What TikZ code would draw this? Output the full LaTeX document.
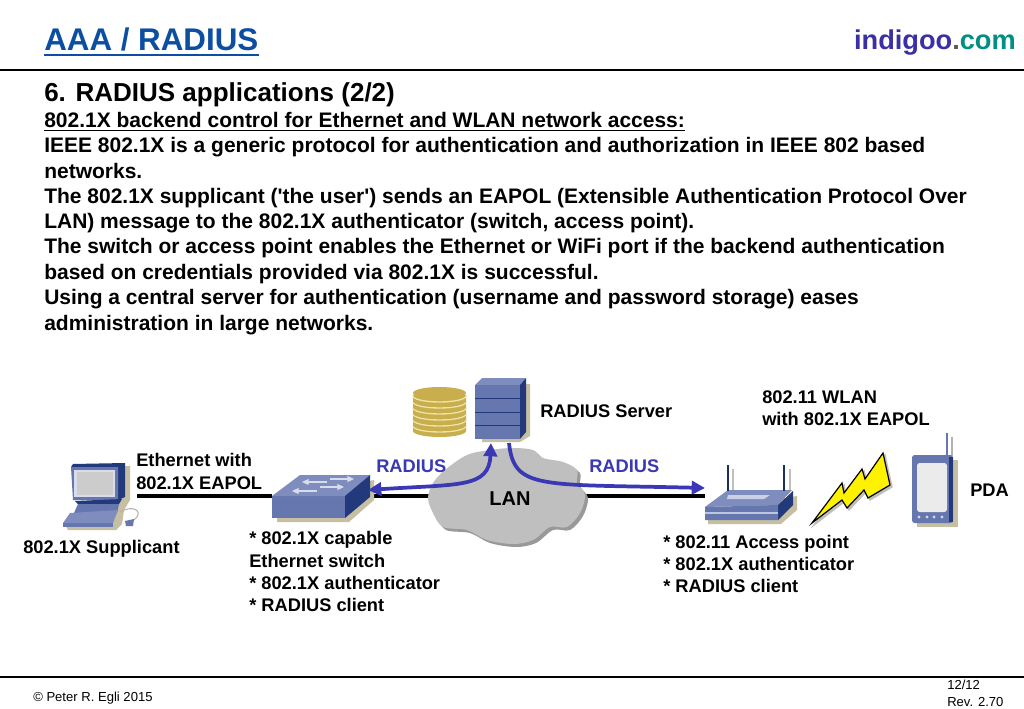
\documentclass[tikz,border=0pt]{standalone}
\usepackage{fontspec}
\setmainfont{Liberation Sans}
\usetikzlibrary{arrows.meta}
\definecolor{titleblue}{HTML}{0B4EA2}
\definecolor{indigo}{HTML}{3A2FA5}
\definecolor{teal}{HTML}{008F80}
\definecolor{radblue}{HTML}{3A38B4}
\definecolor{iconfront}{HTML}{6676AE}
\definecolor{icontop}{HTML}{7E8DBE}
\definecolor{iconside}{HTML}{22397C}
\definecolor{tan}{HTML}{C6BFA2}
\definecolor{gold}{HTML}{C8AE4C}
\definecolor{goldlight}{HTML}{EFE3A6}

\begin{document}
\begin{tikzpicture}[x=0.75pt,y=-0.75pt,
txt/.style={anchor=base west, inner sep=0pt, font=\fontsize{15.75}{18}\selectfont\bfseries},
lbl/.style={anchor=base west, inner sep=0pt, font=\fontsize{13.7}{16}\selectfont\bfseries},
small/.style={anchor=base west, inner sep=0pt, font=\fontsize{9.8}{12}\selectfont},
ethline/.style={line width=2.6pt, black},
radiusarrow/.style={line width=2.8pt, radblue, {Triangle[length=10pt,width=10pt]}-{Triangle[length=10pt,width=10pt]}},
radiusone/.style={line width=2.8pt, radblue, -{Triangle[length=10pt,width=10pt]}},
shadow/.style={fill=tan},
front/.style={fill=iconfront},
top/.style={fill=icontop},
side/.style={fill=iconside}
]
\useasboundingbox (0,0) rectangle (1024,709);
\fill[white] (0,0) rectangle (1024,709);

% header
\node [anchor=base west, inner sep=0pt, text=titleblue, font=\fontsize{23.5}{28}\selectfont\bfseries] (title) at (44,51) {AAA / RADIUS};
\draw [titleblue, line width=1.8pt] ([yshift=-3pt]title.base west) -- ([yshift=-3pt]title.base east);
\node [anchor=base east, inner sep=0pt, font=\fontsize{20.4}{24}\selectfont\bfseries] (site) at (1016,50) {\textcolor{indigo}{indigoo}\textcolor{black!65}{.}\textcolor{teal}{com}};
\coordinate (rulea) at (0,70);
\coordinate (ruleb) at (1024,70);
\draw [line width=0.8pt] (rulea) -- (ruleb);

% text block
\node [anchor=base west, inner sep=0pt, font=\fontsize{19.5}{24}\selectfont\bfseries] (head) at (44,102) {6. RADIUS applications (2/2)};
\node [txt] (t1) at (44,128) {802.1X backend control for Ethernet and WLAN network access:};
\draw [line width=0.9pt] ([yshift=-2pt]t1.base west) -- ([yshift=-2pt]t1.base east);
\node [txt] (t2) at (44,153) {IEEE 802.1X is a generic protocol for authentication and authorization in IEEE 802 based};
\node [txt] (t3) at (44,179) {networks.};
\node [txt] (t4) at (44,204) {The 802.1X supplicant (\textquotesingle the user\textquotesingle) sends an EAPOL (Extensible Authentication Protocol Over};
\node [txt] (t5) at (44,229) {LAN) message to the 802.1X authenticator (switch, access point).};
\node [txt] (t6) at (44,254) {The switch or access point enables the Ethernet or WiFi port if the backend authentication};
\node [txt] (t7) at (44,280) {based on credentials provided via 802.1X is successful.};
\node [txt] (t8) at (44,305) {Using a central server for authentication (username and password storage) eases};
\node [txt] (t9) at (44,330) {administration in large networks.};

% connector ends
\coordinate (pc) at (137,496);
\coordinate (swl) at (272,496);
\coordinate (swr) at (372,496);
\coordinate (cloudl) at (440,496);
\coordinate (cloudr) at (575,496);
\coordinate (ap) at (705,496);
\coordinate (srva) at (491,443);
\coordinate (srvb) at (509,443);
\coordinate (swarrow) at (368,490);
\coordinate (aparrow) at (705,488);

\draw [ethline] (pc) -- (swl);
\draw [ethline] (swr) -- (cloudl);
\draw [ethline] (cloudr) -- (ap);

% cloud
\fill [black!40] plot [smooth cycle, tension=0.55] coordinates {(431,501) (436,486) (448,473) (470,458) (493,453) (516,451) (536,453) (546,461) (566,465) (580,473) (580,486) (588,498) (583,516) (570,530) (553,530) (536,543) (516,547) (490,543) (470,533) (446,530) (436,516)};
\fill [black!25] plot [smooth cycle, tension=0.55] coordinates {(428,498) (433,483) (445,470) (467,455) (490,450) (513,448) (533,450) (543,458) (563,462) (577,470) (577,483) (585,495) (580,513) (567,527) (550,527) (533,540) (513,544) (487,540) (467,530) (443,527) (433,513)};

% disks
\foreach \yy in {425,419,413,407,401,395} {
  \fill [gold] (413,\yy) -- (413,\yy+6) arc [start angle=180, end angle=360, x radius=26.5, y radius=-6] -- (466,\yy) -- cycle;
  \draw [goldlight, line width=1pt] (413,\yy+1) arc [start angle=180, end angle=360, x radius=26.5, y radius=-6];
}
\fill [gold] (439.5,393) ellipse (26.5 and 6);

% server
\fill [shadow] (482,384) -- (530,384) -- (530,436) -- (520,442) -- (482,442) -- cycle;
\fill [top] (475,385) -- (482,378) -- (526,378) -- (520,385) -- cycle;
\fill [side] (520,385) -- (526,378) -- (526,432) -- (520,439) -- cycle;
\fill [front] (475,385) rectangle (520,439);
\foreach \yy in {398,412,425}
  \draw [iconside, line width=0.6pt] (475,\yy) -- (520,\yy);

% switch
\fill [shadow] (277,500) -- (374,480) -- (374,500) -- (349,522) -- (277,522) -- cycle;
\fill [front] (272,496) rectangle (345,518);
\fill [top] (272,496) -- (300,475) -- (370,475) -- (345,496) -- cycle;
\fill [side] (345,496) -- (370,475) -- (370,497) -- (345,518) -- cycle;
\foreach \ax/\ay/\bx/\by in {327/482/302/482,330/479/354/479,317/491/292/491,320/487/344/487}
  \draw [white!70!icontop, line width=0.8pt, -{Triangle[length=5pt,width=4.5pt]}] (\ax,\ay) -- (\bx,\by);

% computer
\fill [shadow] (125,466) -- (130,466) -- (130,500) -- (124,510) -- (122,524) -- (116,530) -- (68,530) -- (66,526) -- cycle;
\fill [iconside] (71,467) -- (73,464) -- (125,463) -- (125,497) -- (118,500) -- cycle;
\fill [front] (71,467) -- (118,467) -- (118,500) -- (73,500) -- cycle;
\fill [white!75!iconfront] (74,470) rectangle (115,497);
\fill [black!20] (77,472) rectangle (113,495);
\fill [iconside] (75,501) -- (122,499) -- (119,504) -- (78,504) -- cycle;
\fill [front] (78,504) -- (119,504) -- (117,513) -- (74,513) -- cycle;
\fill [icontop] (70,513) -- (118,510) -- (113,523) -- (63,523) -- cycle;
\fill [iconfront] (63,523) -- (113,523) -- (113,527) -- (63,527) -- cycle;
\draw [black!30, line width=0.8pt] (120,512) .. controls (136,503) and (145,514) .. (132,521);
\fill [iconfront] (125,521) -- (134,519) -- (133,526) -- (126,526) -- cycle;

% access point
\fill [shadow] (708,512) -- (797,496) -- (797,510) -- (781,524) -- (708,524) -- cycle;
\draw [black!25, line width=1.6pt] (733,469) -- (733,490);
\draw [black!25, line width=1.6pt] (790,469) -- (790,490);
\fill [top] (705,507) -- (728,490) -- (792,490) -- (778,505) -- cycle;
\fill [white!60!icontop] (728,495) -- (770,495) -- (764,499) -- (727,499) -- cycle;
\fill [side] (778,505) -- (793,491) -- (793,505) -- (778,520) -- cycle;
\fill [front] (705,507) -- (778,505) -- (778,520) -- (705,520) -- cycle;
\draw [white!50!icontop, line width=1pt] (705,513) -- (778,513);
\draw [iconside!80!black, line width=2.2pt] (728,465) -- (728,491);
\draw [iconside!80!black, line width=2.2pt] (784,465) -- (784,491);

% lightning
\filldraw [fill=black!25, draw=black!25, line width=1pt] (814,525) -- (844,485) -- (846,495) -- (864,471) -- (867,481) -- (885,455) -- (892,487) -- (870,500) -- (866,492) -- (849,510) -- (844,502) -- cycle;
\filldraw [fill=yellow, draw=black, line width=0.9pt, line join=miter] (812,523) -- (842,483) -- (844,493) -- (862,469) -- (865,479) -- (883,453) -- (890,485) -- (868,498) -- (864,490) -- (847,508) -- (842,500) -- cycle;

% PDA
\fill [shadow] (917,460) rectangle (958,527);
\draw [black!30, line width=1.4pt] (952,437) -- (952,456);
\draw [iconfront, line width=1.6pt] (947,433) -- (947,456);
\fill [iconfront, rounded corners=2pt] (912,455) rectangle (953,523);
\fill [iconside] (949,457) rectangle (953,522);
\fill [black!8, rounded corners=2pt] (917,463) rectangle (947,512);
\foreach \bx in {919,927,934,942}
  \fill [white!70!iconfront] (\bx,517) circle (1.6);

% RADIUS flows
\draw [radiusarrow] (srva) .. controls (489,488) and (460,484) .. (swarrow);
\draw [radiusone] (srvb) .. controls (514,490) and (540,484) .. (aparrow);

% labels
\node [lbl] (lblEth) at (136,466) {Ethernet with};
\node [lbl] (lblEthb) at (136,489) {802.1X EAPOL};
\node [lbl] (lblSupp) at (23,553) {802.1X Supplicant};
\node [lbl] (lblSwa) at (249,544) {* 802.1X capable};
\node [lbl] (lblSwb) at (249,567) {Ethernet switch};
\node [lbl] (lblSwc) at (249,589) {* 802.1X authenticator};
\node [lbl] (lblSwd) at (249,611) {* RADIUS client};
\node [lbl,text=radblue] (lblRadl) at (376,472) {RADIUS};
\node [lbl,text=radblue] (lblRadr) at (589,472) {RADIUS};
\node [lbl] (lblSrv) at (540,417) {RADIUS Server};
\node [lbl] (lblWlan) at (762,403) {802.11 WLAN};
\node [lbl] (lblWlanb) at (762,425) {with 802.1X EAPOL};
\node [lbl] (lblPda) at (970,496) {PDA};
\node [lbl] (lblApa) at (663,548) {* 802.11 Access point};
\node [lbl] (lblApb) at (663,570) {* 802.1X authenticator};
\node [lbl] (lblApc) at (663,592) {* RADIUS client};
\node [anchor=base, inner sep=0pt, font=\fontsize{15}{18}\selectfont\bfseries] (lan) at (510,505) {LAN};

% footer
\coordinate (rulec) at (0,677);
\coordinate (ruled) at (1024,677);
\draw [line width=0.8pt] (rulec) -- (ruled);
\node [small] (copy) at (33,701) {© Peter R. Egli 2015};
\node [small] (page) at (947,689) {12/12};
\node [small] (rev) at (947,706) {Rev. 2.70};
\end{tikzpicture}
\end{document}
